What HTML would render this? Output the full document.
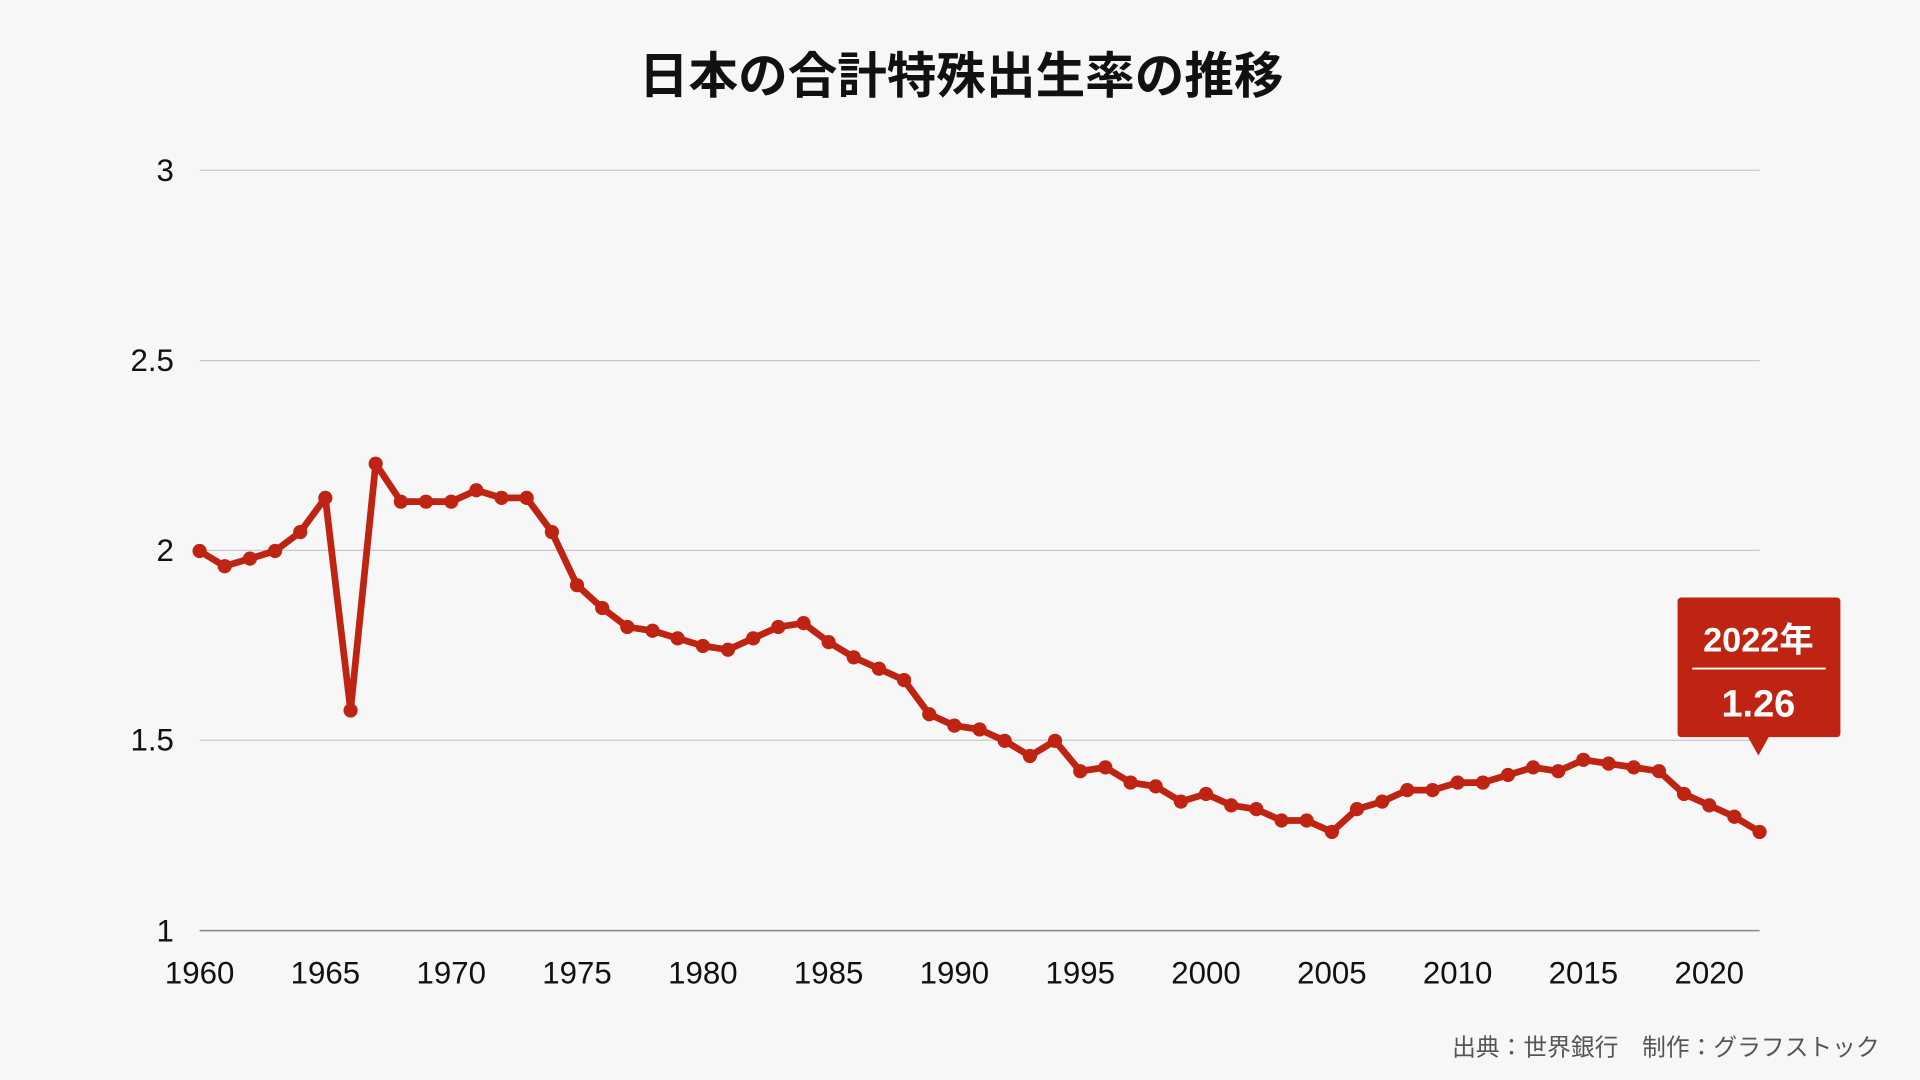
<!DOCTYPE html>
<html><head><meta charset="utf-8"><style>
html,body{margin:0;padding:0;background:#f7f7f7;}
svg{display:block;}
text{font-family:"Liberation Sans","Noto Sans CJK JP",sans-serif;}
</style></head><body>
<svg width="1920" height="1080" viewBox="0 0 1568 882" xmlns="http://www.w3.org/2000/svg">
<rect width="1568" height="882" fill="#f7f7f7"/>
<text x="785" y="76" text-anchor="middle" font-size="40.5" font-weight="bold" fill="#111">日本の合計特殊出生率の推移</text>
<g stroke="#c8c8c8" stroke-width="1">
<line x1="163" y1="139" x2="1437" y2="139"/>
<line x1="163" y1="294.5" x2="1437" y2="294.5"/>
<line x1="163" y1="449.5" x2="1437" y2="449.5"/>
<line x1="163" y1="604.5" x2="1437" y2="604.5"/>
</g>
<line x1="163" y1="760" x2="1437" y2="760" stroke="#888" stroke-width="1.2"/>
<g font-size="25.5" fill="#111" text-anchor="end">
<text x="142" y="148">3</text>
<text x="142" y="303">2.5</text>
<text x="142" y="458">2</text>
<text x="142" y="613">1.5</text>
<text x="142" y="769">1</text>
</g>
<g font-size="25.5" fill="#111" text-anchor="middle">
<text x="163" y="803">1960</text>
<text x="265.7" y="803">1965</text>
<text x="368.5" y="803">1970</text>
<text x="471.2" y="803">1975</text>
<text x="574" y="803">1980</text>
<text x="676.7" y="803">1985</text>
<text x="779.4" y="803">1990</text>
<text x="882.2" y="803">1995</text>
<text x="984.9" y="803">2000</text>
<text x="1087.7" y="803">2005</text>
<text x="1190.4" y="803">2010</text>
<text x="1293.1" y="803">2015</text>
<text x="1395.9" y="803">2020</text>
</g>
<defs>
<marker id="m" markerUnits="userSpaceOnUse" markerWidth="14" markerHeight="14" refX="7" refY="7">
<circle cx="7" cy="7" r="5.8" fill="#bf2311"/>
</marker>
</defs>
<polyline fill="none" stroke="#bf2311" stroke-width="5.5" stroke-linejoin="round"
marker-start="url(#m)" marker-mid="url(#m)" marker-end="url(#m)"
points="163,450 183.5,462.4 204.1,456.2 224.6,450 245.2,434.5 265.7,406.6 286.3,580.2 306.8,378.7 327.4,409.7 347.9,409.7 368.5,409.7 389,400.4 409.6,406.6 430.1,406.6 450.7,434.5 471.2,477.9 491.8,496.5 512.3,512 532.9,515.1 553.4,521.3 574,527.5 594.5,530.6 615.1,521.3 635.6,512 656.2,508.9 676.7,524.4 697.2,536.8 717.8,546.1 738.3,555.4 758.9,583.3 779.4,592.6 800,595.7 820.5,605 841.1,617.4 861.6,605 882.2,629.8 902.7,626.7 923.3,639.1 943.8,642.2 964.4,654.6 984.9,648.4 1005.5,657.7 1026,660.8 1046.6,670.1 1067.1,670.1 1087.7,679.4 1108.2,660.8 1128.8,654.6 1149.3,645.3 1169.9,645.3 1190.4,639.1 1211,639.1 1231.5,632.9 1252.1,626.7 1272.6,629.8 1293.1,620.5 1313.7,623.6 1334.2,626.7 1354.8,629.8 1375.3,648.4 1395.9,657.7 1416.4,667 1437,679.4"/>
<rect x="1370" y="488" width="133" height="114" rx="3" fill="#bf2311"/>
<polygon points="1427,601 1445,601 1436,617" fill="#bf2311"/>
<text x="1436" y="532" text-anchor="middle" font-size="28" font-weight="bold" fill="#fff">2022年</text>
<line x1="1382" y1="546" x2="1491" y2="546" stroke="#fff" stroke-width="1.5"/>
<text x="1436" y="585" text-anchor="middle" font-size="31" font-weight="bold" fill="#fff">1.26</text>
<text x="1535" y="862" text-anchor="end" font-size="19.4" fill="#555">出典：世界銀行　制作：グラフストック</text>
</svg>
</body></html>
